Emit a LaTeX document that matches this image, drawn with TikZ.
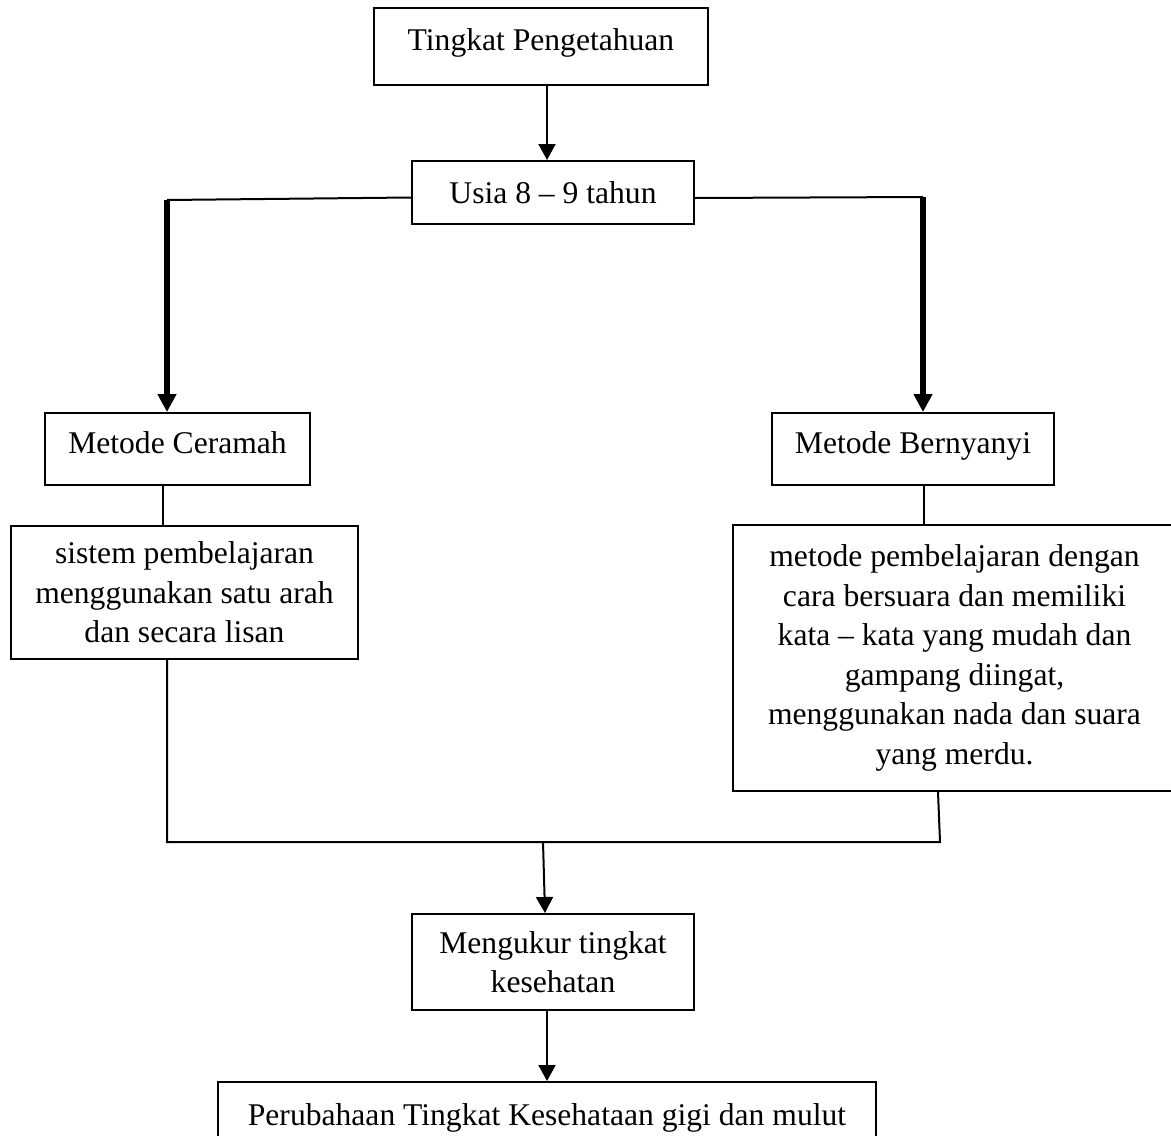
\documentclass[tikz,border=0pt]{standalone}
\usepackage{fontspec}
\setmainfont{Liberation Serif}
\usetikzlibrary{arrows.meta,calc}
\begin{document}
\begin{tikzpicture}[x=0.5pt,y=-0.5pt,
  font=\fontsize{15.8pt}{19.75pt}\selectfont,
  box/.style={draw, line width=1pt, inner sep=0pt, align=center},
  conn/.style={line width=1pt},
  arr/.style={line width=1pt, -{Triangle[length=8pt,width=8.5pt]}},
  thickarr/.style={line width=2.8pt, -{Triangle[length=9pt,width=9pt]}},
  thickline/.style={line width=2.8pt}
]
\useasboundingbox (0,0) rectangle (1171,1135);
\clip (0,0) rectangle (1171,1135);

% boxes
\node[box, minimum width=167pt, minimum height=38.5pt, text height=11pt, text depth=7.5pt] (tp) at (541,46.5) {Tingkat Pengetahuan};
\node[box, minimum width=141pt, minimum height=31.5pt, text height=10.5pt, text depth=0pt] (usia) at (553,192.5) {Usia 8 – 9 tahun};
\node[box, minimum width=132.5pt, minimum height=36pt, text height=10.5pt, text depth=6.5pt] (cer) at (177.5,449) {Metode Ceramah};
\node[box, minimum width=141pt, minimum height=36pt, text height=10.5pt, text depth=6.5pt] (ber) at (913,449) {Metode Bernyanyi};
\node[box, minimum width=173.5pt, minimum height=66.5pt] (sis) at (184.5,592.5) {sistem pembelajaran\\menggunakan satu arah\\dan secara lisan};
\node[box, minimum width=221.5pt, minimum height=133pt] (met) at (954.5,658) {metode pembelajaran dengan\\cara bersuara dan memiliki\\kata – kata yang mudah dan\\gampang diingat,\\menggunakan nada dan suara\\yang merdu.};
\node[box, minimum width=141pt, minimum height=48pt] (ukr) at (553,962) {Mengukur tingkat\\kesehatan};
\node[box, minimum width=329pt, minimum height=33pt, text height=10.5pt, text depth=0.5pt] (pbh) at (547,1115) {Perubahaan Tingkat Kesehataan gigi dan mulut};

% helper coordinates
\coordinate (a1) at (547,0);
\coordinate (L1) at (167,200);
\coordinate (R1) at (923,197);
\coordinate (c2) at (163,0);
\coordinate (c3) at (924,0);
\coordinate (B1) at (167,842);
\coordinate (B2) at (940,842);
\coordinate (B3) at (938,0);
\coordinate (M1) at (543,842);
\coordinate (M2) at (545,0);
\coordinate (a7) at (547,0);

% connectors
\draw[arr] (tp.south -| a1) -- (usia.north -| a1);
\draw[conn] ($(usia.west)+(0,5)$) -- (L1);
\draw[thickarr] (L1) -- (L1 |- cer.north);
\draw[conn] ($(usia.east)+(0,5.5)$) -- (R1);
\draw[thickarr] (R1) -- (R1 |- ber.north);
\draw[conn] (cer.south -| c2) -- (sis.north -| c2);
\draw[conn] (ber.south -| c3) -- (met.north -| c3);
\draw[conn] (sis.south -| B1) -- (B1) -- (B2) -- (met.south -| B3);
\draw[arr] (M1) -- (ukr.north -| M2);
\draw[arr] (ukr.south -| a7) -- (pbh.north -| a7);
\end{tikzpicture}
\end{document}
